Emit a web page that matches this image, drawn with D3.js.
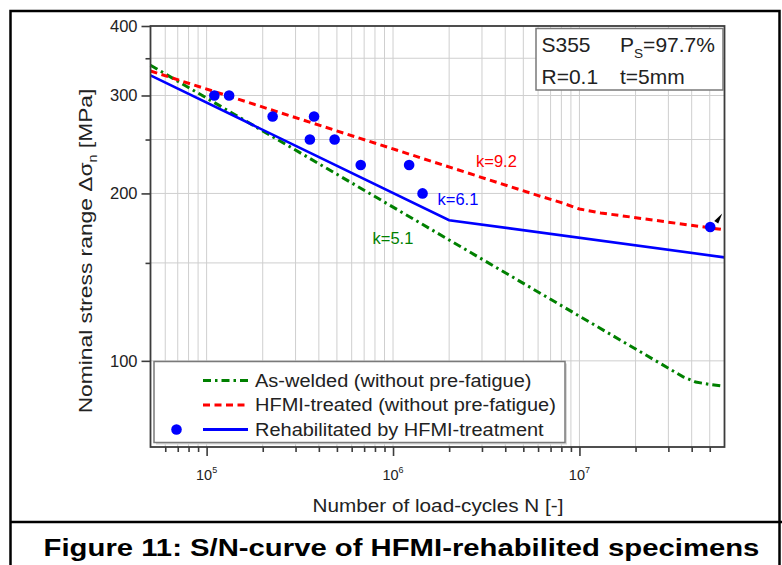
<!DOCTYPE html>
<html>
<head>
<meta charset="utf-8">
<script src="https://cdn.jsdelivr.net/npm/d3@7/dist/d3.min.js"></script>
<style>
  html, body { margin: 0; padding: 0; background: #fff; }
  svg { display: block; font-family: "Liberation Sans", Arial, sans-serif; }
</style>
</head>
<body>
<svg id="chart" width="782" height="565"></svg>
<script>
// S/N data: number of load cycles N against nominal stress range (MPa)
const asWeldedN = [5e4, 3.6e7, 4.2e7, 5e7, 6e7];
const asWeldedS = [340, 93.6, 91.6, 90.7, 90.0];

const hfmiN = [5e4, 5.9e6, 8e6, 1e7, 1.3e7, 6e7];
const hfmiS = [332, 198.6, 192.5, 187.5, 184.5, 172];

const rehabN = [5e4, 2e6, 6e7];
const rehabS = [326, 179, 153.5];

// rehabilitated specimens (test results)
const testN = [1.1e5, 1.32e5, 2.26e5, 3.58e5, 3.77e5, 4.86e5, 6.71e5, 1.22e6, 1.44e6, 5.03e7];
const testS = [300, 300, 275, 250, 275, 250, 225, 225, 200, 174];
const runOutIndex = 9;   // last specimen did not fail

const yMajorTicks = [100, 200, 300, 400];
const yMinorTicks = [150, 250, 350];
const yGridValues = [100, 150, 200, 250, 300, 350];
const xMajorExponents = [5, 6, 7];

const slopeLabels = [
  { text: "k=9.2", color: "#ff0000", x: 476, y: 166.5 },
  { text: "k=6.1", color: "#0000ff", x: 437.5, y: 205 },
  { text: "k=5.1", color: "#008000", x: 372.5, y: 244 }
];

const legendItems = [
  { label: "As-welded (without pre-fatigue)", color: "#008000", dash: "8,4,2.5,4", dot: false },
  { label: "HFMI-treated (without pre-fatigue)", color: "#ff0000", dash: "7,4.5", dot: false },
  { label: "Rehabilitated by HFMI-treatment", color: "#0000ff", dash: null, dot: true }
];

const svg = d3.select("#chart");
const plot = { left: 150.5, right: 724.5, top: 26, bottom: 447 };

const x = d3.scaleLog().domain([5e4, 6e7]).range([plot.left, plot.right]);
const y = d3.scaleLog().domain([70, 400]).range([plot.bottom, plot.top]);

// text placed in its own group so it can be stretched horizontally
function stretched(parent, tx, ty, sx, anchor, rotate) {
  const g = parent.append("g")
    .attr("transform", `translate(${tx},${ty})` + (rotate ? ` rotate(${rotate})` : "") + ` scale(${sx},1)`);
  return g.append("text").attr("text-anchor", anchor || "start");
}

// outer frame and caption separator
svg.append("rect").attr("x", 10.5).attr("y", 11).attr("width", 769).attr("height", 560)
  .attr("fill", "none").attr("stroke", "#000").attr("stroke-width", 2.5);
svg.append("line").attr("x1", 10).attr("x2", 782).attr("y1", 522).attr("y2", 522)
  .attr("stroke", "#000").attr("stroke-width", 2.5);

// grid
const xGridValues = [];
for (let e = 4; e <= 7; e++) for (let m = 1; m <= 9; m++) {
  const v = m * Math.pow(10, e);
  if (v > 5e4 && v < 6e7) xGridValues.push(v);
}
const grid = svg.append("g").attr("stroke", "#cfcfcf").attr("stroke-width", 1);
grid.selectAll(".gx").data(xGridValues).join("line")
  .attr("x1", d => x(d)).attr("x2", d => x(d))
  .attr("y1", plot.top).attr("y2", plot.bottom);
grid.selectAll(".gy").data(yGridValues).join("line")
  .attr("x1", plot.left).attr("x2", plot.right)
  .attr("y1", d => y(d)).attr("y2", d => y(d));

// curves
const line = d3.line().x(d => x(d[0])).y(d => y(d[1]));
const curves = svg.append("g").attr("fill", "none");
curves.append("path").datum(d3.zip(asWeldedN, asWeldedS)).attr("d", line)
  .attr("stroke", "#008000").attr("stroke-width", 3).attr("stroke-dasharray", "8,4,2.5,4");
curves.append("path").datum(d3.zip(hfmiN, hfmiS)).attr("d", line)
  .attr("stroke", "#ff0000").attr("stroke-width", 3).attr("stroke-dasharray", "7,4.5");
curves.append("path").datum(d3.zip(rehabN, rehabS)).attr("d", line)
  .attr("stroke", "#0000ff").attr("stroke-width", 2.6);

// test points
const pts = d3.zip(testN, testS);
svg.append("g").selectAll("circle").data(pts).join("circle")
  .attr("cx", d => x(d[0])).attr("cy", d => y(d[1])).attr("r", 5.3)
  .attr("fill", "#0000ff");

// run-out arrow
{
  const px = x(testN[runOutIndex]), py = y(testS[runOutIndex]);
  svg.append("path")
    .attr("d", `M${px + 4},${py - 6} L${px + 12},${py - 13.5} L${px + 8},${py - 3.5} Z`)
    .attr("fill", "#000");
}

// slope annotations
svg.append("g").selectAll("text").data(slopeLabels).join("text")
  .attr("x", d => d.x).attr("y", d => d.y)
  .attr("fill", d => d.color).attr("font-size", 16.5)
  .text(d => d.text);

// axes frame
const axisColor = "#3c3c3c";
svg.append("rect").attr("x", plot.left).attr("y", plot.top)
  .attr("width", plot.right - plot.left).attr("height", plot.bottom - plot.top)
  .attr("fill", "none").attr("stroke", axisColor).attr("stroke-width", 1.8);

// y axis
const yAxis = d3.axisLeft(y).tickValues(yMajorTicks).tickSize(9).tickFormat(d3.format("d"));
const yg = svg.append("g").attr("transform", `translate(${plot.left},0)`).call(yAxis);
yg.select(".domain").remove();
yg.selectAll(".tick line").attr("stroke", axisColor).attr("stroke-width", 1.6);
yg.selectAll(".tick text").attr("font-size", 16.5).attr("fill", "#222").attr("x", -13)
  .attr("font-family", "Liberation Sans, Arial, sans-serif");
const yMinor = d3.axisLeft(y).tickValues(yMinorTicks).tickSize(5).tickFormat("");
const ymg = svg.append("g").attr("transform", `translate(${plot.left},0)`).call(yMinor);
ymg.select(".domain").remove();
ymg.selectAll(".tick line").attr("stroke", axisColor).attr("stroke-width", 1.6);

// x axis
const xMajorValues = xMajorExponents.map(e => Math.pow(10, e));
const xAxis = d3.axisBottom(x).tickValues(xMajorValues).tickSize(9).tickFormat("");
const xg = svg.append("g").attr("transform", `translate(0,${plot.bottom})`).call(xAxis);
xg.select(".domain").remove();
xg.selectAll(".tick line").attr("stroke", axisColor).attr("stroke-width", 1.6);
const xMinorValues = xGridValues.filter(v => !xMajorValues.includes(v));
const xMinor = d3.axisBottom(x).tickValues(xMinorValues).tickSize(5).tickFormat("");
const xmg = svg.append("g").attr("transform", `translate(0,${plot.bottom})`).call(xMinor);
xmg.select(".domain").remove();
xmg.selectAll(".tick line").attr("stroke", axisColor).attr("stroke-width", 1.6);

// x tick labels as powers of ten
const xLabels = svg.append("g").selectAll("text").data(xMajorExponents).join("text")
  .attr("x", d => x(Math.pow(10, d))).attr("y", 479.5)
  .attr("text-anchor", "middle").attr("font-size", 14.5).attr("fill", "#222");
xLabels.append("tspan").text("10");
xLabels.append("tspan").attr("font-size", 9).attr("dy", -7).text(d => d);

// axis titles
stretched(svg, 438, 512, 1.12, "middle")
  .attr("font-size", 18.5).attr("fill", "#222")
  .text("Number of load-cycles N [-]");

{
  const t = stretched(svg, 92, 251, 1.2, "middle", -90)
    .attr("font-size", 19).attr("fill", "#222");
  t.append("tspan").text("Nominal stress range \u0394\u03c3");
  t.append("tspan").attr("font-size", 12).attr("dy", 5).text("n");
  t.append("tspan").attr("dy", -5).text(" [MPa]");
}

// info box
svg.append("rect").attr("x", 536).attr("y", 28.5).attr("width", 187).attr("height", 61.5)
  .attr("fill", "#fff").attr("stroke", "#7a7a7a").attr("stroke-width", 1.5);
stretched(svg, 541.5, 51.5, 1.05).attr("font-size", 20).attr("fill", "#222").text("S355");
{
  const t = stretched(svg, 620, 51.5, 1.05).attr("font-size", 20).attr("fill", "#222");
  t.append("tspan").text("P");
  t.append("tspan").attr("font-size", 13).attr("dy", 6.5).text("S");
  t.append("tspan").attr("dy", -6.5).text("=97.7%");
}
stretched(svg, 541.5, 83.5, 1.05).attr("font-size", 20).attr("fill", "#222").text("R=0.1");
stretched(svg, 620, 83.5, 1.05).attr("font-size", 20).attr("fill", "#222").text("t=5mm");

// legend
const lg = svg.append("g");
lg.append("rect").attr("x", 156).attr("y", 363.5).attr("width", 411).attr("height", 81)
  .attr("fill", "#d8d8d8");
lg.append("rect").attr("x", 154).attr("y", 361.5).attr("width", 411).attr("height", 81)
  .attr("fill", "#fff").attr("stroke", "#7a7a7a").attr("stroke-width", 1.5);
const rowY = [380.5, 405, 429.5];
legendItems.forEach((it, i) => {
  lg.append("line").attr("x1", 203).attr("x2", 248).attr("y1", rowY[i]).attr("y2", rowY[i])
    .attr("stroke", it.color).attr("stroke-width", 3)
    .attr("stroke-dasharray", it.dash);
  if (it.dot) lg.append("circle").attr("cx", 176.5).attr("cy", rowY[i]).attr("r", 5.3).attr("fill", it.color);
  stretched(lg, 255, rowY[i] + 6, 1.08).attr("font-size", 18.5).attr("fill", "#222").text(it.label);
});

// caption
stretched(svg, 401.5, 556, 1.22, "middle")
  .attr("font-size", 24).attr("font-weight", "bold").attr("fill", "#000")
  .text("Figure 11: S/N-curve of HFMI-rehabilited specimens");
</script>
</body>
</html>
